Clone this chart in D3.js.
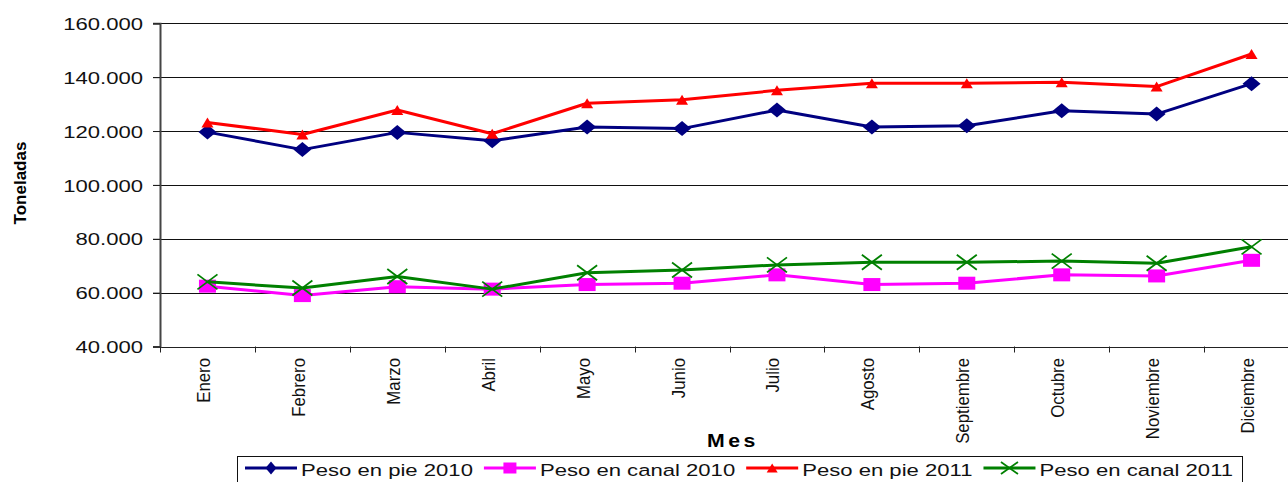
<!DOCTYPE html>
<html><head><meta charset="utf-8">
<script src="https://cdn.jsdelivr.net/npm/d3@7"></script>
<style>
html,body{margin:0;padding:0;background:#fff;overflow:hidden;}
svg{display:block;font-family:"Liberation Sans",Arial,sans-serif;}
</style></head>
<body>
<svg id="chart" width="1288" height="482"></svg>
<script>
const months = ["Enero","Febrero","Marzo","Abril","Mayo","Junio","Julio","Agosto","Septiembre","Octubre","Noviembre","Diciembre"];
const pesoPie2010   = [119600,113100,119500,116400,121500,120900,127800,121500,122000,127500,126300,137600];
const pesoCanal2010 = [62400,58900,62200,61300,63000,63500,66600,63000,63500,66600,66200,72000];
const pesoPie2011   = [123200,118700,127800,119000,130300,131600,135100,137700,137700,138100,136500,148600];
const pesoCanal2011 = [64000,61700,66000,61300,67400,68400,70300,71300,71300,71700,70900,77000];
const yTicks = [40000,60000,80000,100000,120000,140000,160000];
const seriesNames = ["Peso en pie 2010","Peso en canal 2010","Peso en pie 2011","Peso en canal 2011"];

const series = [
  {name: seriesNames[0], values: pesoPie2010,   color: "#000080", marker: "diamond"},
  {name: seriesNames[1], values: pesoCanal2010, color: "#FF00FF", marker: "square"},
  {name: seriesNames[2], values: pesoPie2011,   color: "#FF0000", marker: "triangle"},
  {name: seriesNames[3], values: pesoCanal2011, color: "#008000", marker: "x"}
];

const svg = d3.select("#chart");
const pL = 160, pR = 1299, pT = 23.3, pB = 346.5;
const x = d3.scaleBand().domain(months).range([pL, pR]).padding(0);
const y = d3.scaleLinear().domain([40000,160000]).range([pB, pT]);
const loc = d3.formatLocale({decimal:",", thousands:".", grouping:[3], currency:["$",""]});
const fmt = loc.format(",d");

// gridlines
svg.append("g").selectAll("line").data(yTicks).join("line")
  .attr("x1", pL-7).attr("x2", pR)
  .attr("y1", d=>Math.round(y(d))+0.5).attr("y2", d=>Math.round(y(d))+0.5)
  .attr("stroke", d=> d===40000 ? "#222" : "#111").attr("stroke-width", 1);

// y axis
const yAxis = svg.append("g").attr("transform",`translate(${pL},0)`)
  .call(d3.axisLeft(y).tickValues(yTicks).tickFormat(fmt).tickSize(7));
yAxis.select(".domain").attr("stroke","#444").attr("stroke-width",2);
yAxis.selectAll(".tick line").attr("stroke","#222");
yAxis.selectAll(".tick text")
  .attr("x",0).attr("dy","0.36em")
  .attr("transform","translate(-17,0) scale(1.3,1)")
  .attr("font-size",17).attr("fill","#111")
  .attr("font-family","Liberation Sans, Arial, sans-serif");

// x axis
const xAxis = svg.append("g").attr("transform",`translate(0,${pB})`)
  .call(d3.axisBottom(x).tickSize(0).tickFormat(""));
xAxis.select(".domain").remove();
const bounds = months.map(m=>x(m)).concat([x.range()[1]]);
svg.append("g").selectAll("line").data(bounds).join("line")
  .attr("x1", d=>Math.round(d)+0.5).attr("x2", d=>Math.round(d)+0.5)
  .attr("y1", pB).attr("y2", pB+6).attr("stroke","#222");
svg.append("g").selectAll("text").data(months).join("text")
  .attr("transform", d=>`translate(${x(d)+x.bandwidth()/2+2.5},358) scale(1.08,1) rotate(-90)`)
  .attr("text-anchor","end").attr("font-size",16.8).attr("fill","#111")
  .text(d=>d);

// axis titles
svg.append("text")
  .attr("transform","translate(26,183) rotate(-90)")
  .attr("text-anchor","middle").attr("font-size",17).attr("font-weight","bold")
  .text("Toneladas");
svg.append("text")
  .attr("transform","translate(707,446.5) scale(1.15,1)")
  .attr("font-size",18.5).attr("font-weight","bold").attr("letter-spacing",3)
  .text("Mes");

// marker drawing
function drawMarker(g, type, color, w, h){
  if(type==="diamond"){
    g.append("path").attr("d",`M0,${-h/2}L${w/2},0L0,${h/2}L${-w/2},0Z`).attr("fill",color);
  } else if(type==="square"){
    g.append("rect").attr("x",-w/2).attr("y",-h/2).attr("width",w).attr("height",h).attr("fill",color);
  } else if(type==="triangle"){
    g.append("path").attr("d",`M0,${-h/2}L${w/2},${h/2}L${-w/2},${h/2}Z`).attr("fill",color);
  } else {
    g.append("path").attr("d",`M${-w/2},${-h/2}L${w/2},${h/2}M${-w/2},${h/2}L${w/2},${-h/2}`)
      .attr("stroke",color).attr("stroke-width",1.8).attr("fill","none");
  }
}
const msize = {diamond:[18,15], square:[17,13], triangle:[12,10], x:[20,15]};

const line = d3.line().x((d,i)=>x(months[i])+x.bandwidth()/2).y(d=>y(d));
series.forEach(s=>{
  const g = svg.append("g");
  g.append("path").attr("d", line(s.values)).attr("fill","none")
    .attr("stroke", s.color).attr("stroke-width",3).attr("stroke-linejoin","round");
  s.values.forEach((v,i)=>{
    const mg = g.append("g").attr("transform",`translate(${x(months[i])+x.bandwidth()/2},${y(v)})`);
    drawMarker(mg, s.marker, s.color, msize[s.marker][0], msize[s.marker][1]);
  });
});

// legend
const lg = svg.append("g");
lg.append("rect").attr("x",237.5).attr("y",456.5).attr("width",1005).attr("height",40)
  .attr("fill","#fff").attr("stroke","#111").attr("stroke-width",1);
const lsize = {diamond:[11,13], square:[13,11], triangle:[11,9], x:[17,12]};
let cx = 245;
series.forEach(s=>{
  const item = lg.append("g");
  item.append("line").attr("x1",cx).attr("x2",cx+52).attr("y1",468).attr("y2",468)
    .attr("stroke",s.color).attr("stroke-width",3);
  const mg = item.append("g").attr("transform",`translate(${cx+26},468)`);
  drawMarker(mg, s.marker, s.color, lsize[s.marker][0], lsize[s.marker][1]);
  const t = item.append("text").attr("transform",`translate(${cx+56},476) scale(1.3,1)`)
    .attr("font-size",17).attr("fill","#111").text(s.name);
  const w = t.node().getComputedTextLength()*1.3;
  cx = cx + 56 + w + 11;
});
</script>
</body></html>
